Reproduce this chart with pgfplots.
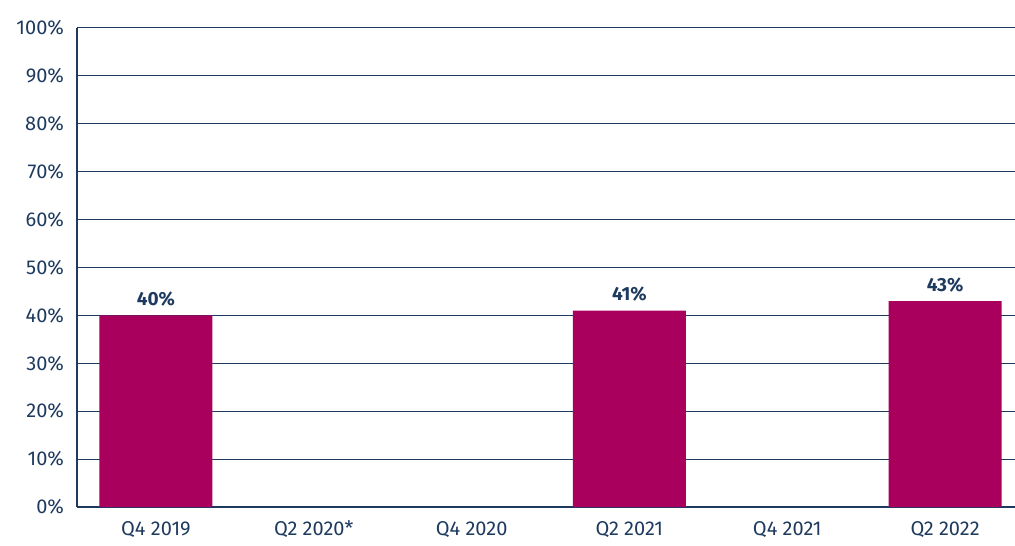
\documentclass[border=0pt]{standalone}
\usepackage{pgfplots}
\pgfplotsset{compat=1.18}
\usepackage{fontspec}
\setmainfont{Fira Sans}
\definecolor{barmag}{HTML}{A8005C}
\definecolor{navy}{HTML}{1E3A5F}
\begin{document}
\begin{tikzpicture}
\useasboundingbox (0,0) rectangle (507.5pt,272.5pt);
\begin{axis}[
    at={(38.5pt,19pt)}, anchor=south west,
    scale only axis, width=473.5pt, height=239.5pt,
    xmin=-0.5, xmax=5.5, ymin=0, ymax=100,
    xtick={0,...,5},
    xticklabels={Q4 2019, Q2 2020*, Q4 2020, Q2 2021, Q4 2021, Q2 2022},
    ytick={0,10,...,100},
    yticklabel={\pgfmathprintnumber{\tick}\%},
    /pgf/number format/assume math mode=true,
    major tick length=0pt,
    ymajorgrids,
    grid style={navy, line width=0.5pt},
    axis x line=bottom, axis y line=left,
    axis line style={navy, line width=1.2pt, -},
    tick label style={font=\fontsize{10}{12}\selectfont, text=navy},
    yticklabel style={xshift=-3pt},
    xticklabel style={yshift=-3.5pt},
    ybar, bar width=0.716, bar shift=0pt,
    nodes near coords={\pgfmathprintnumber{\pgfplotspointmeta}\%},
    nodes near coords style={font=\bfseries\fontsize{9.5}{11}\selectfont, text=navy, yshift=1pt},
    point meta=explicit,
]
\addplot[draw=none, fill=barmag] coordinates {(0,40) [40] (3,41) [41] (5,43) [43]};
\end{axis}
\end{tikzpicture}
\end{document}
